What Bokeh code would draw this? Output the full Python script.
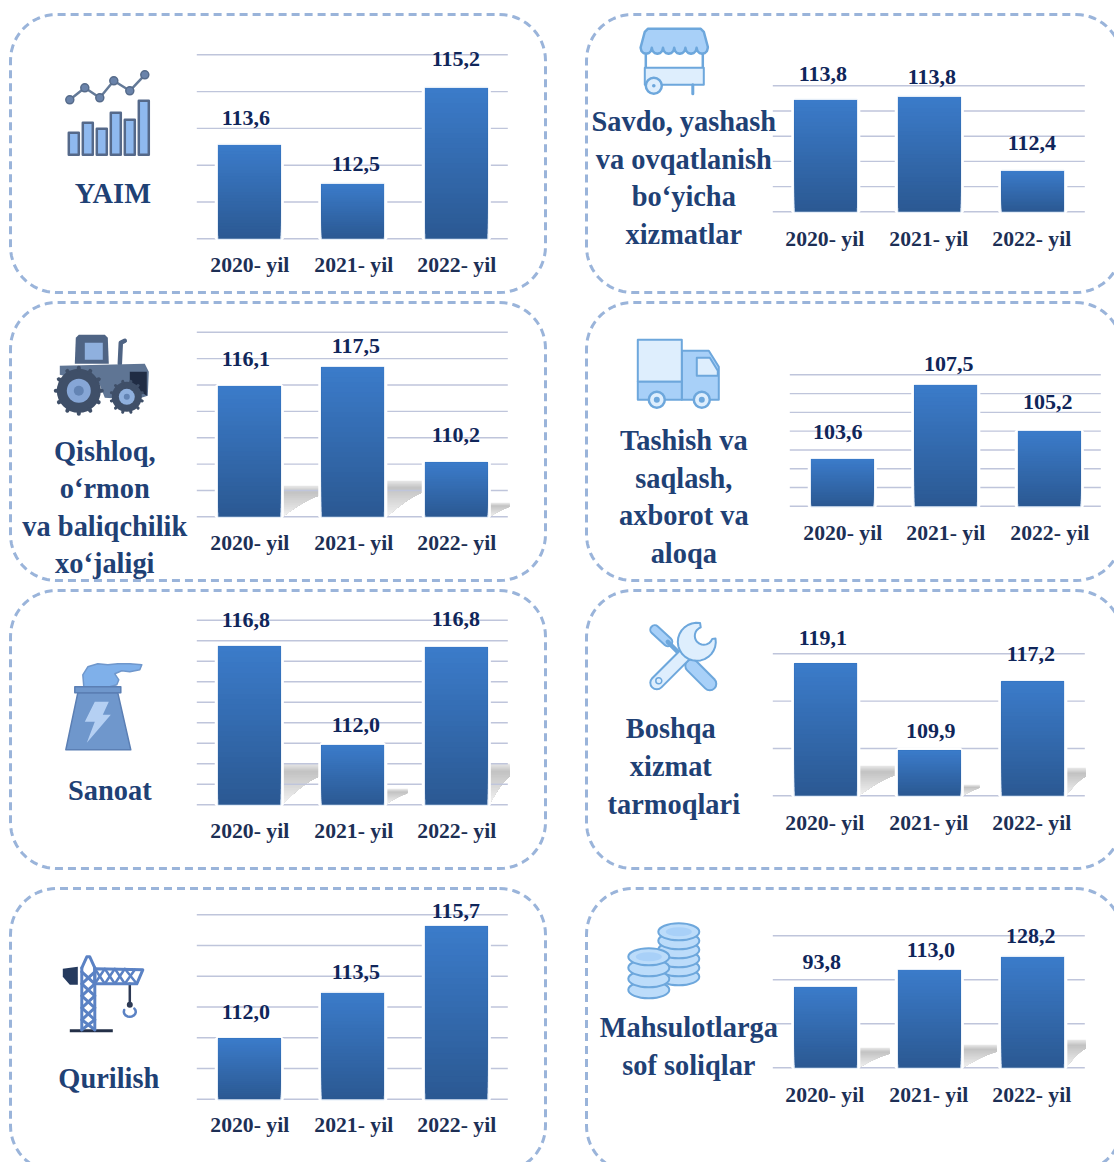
import math
import numpy as np
from bokeh.core.properties import value
from bokeh.embed import file_html
from bokeh.models import Range1d
from bokeh.plotting import figure
from bokeh.resources import INLINE

categories = ["2020- yil", "2021- yil", "2022- yil"]

# Printed value labels and the bar heights
yaim_labels = ["113,6", "112,5", "115,2"]
yaim_bars = [113.55, 112.49, 115.10]
yaim_grid = [111, 112, 113, 114, 115, 116]

savdo_labels = ["113,8", "113,8", "112,4"]
savdo_bars = [113.82, 113.88, 112.41]
savdo_grid = [111.6, 112.1, 112.6, 113.1, 113.6, 114.1]

qishloq_labels = ["116,1", "117,5", "110,2"]
qishloq_bars = [115.9, 117.35, 110.1]
qishloq_grid = [106, 108, 110, 112, 114, 116, 118, 120]

tashish_labels = ["103,6", "107,5", "105,2"]
tashish_bars = [103.5, 107.45, 105.0]
tashish_grid = [101, 102, 103, 104, 105, 106, 107, 108]

sanoat_labels = ["116,8", "112,0", "116,8"]
sanoat_bars = [116.72, 111.89, 116.67]
sanoat_grid = [109, 110, 111, 112, 113, 114, 115, 116, 117, 118]

boshqa_labels = ["119,1", "109,9", "117,2"]
boshqa_bars = [118.94, 109.75, 117.04]
boshqa_grid = [105, 110, 115, 120]

qurilish_labels = ["112,0", "113,5", "115,7"]
qurilish_bars = [111.97, 113.46, 115.62]
qurilish_grid = [110, 111, 112, 113, 114, 115, 116]

mahsulot_labels = ["93,8", "113,0", "128,2"]
mahsulot_bars = [91.3, 111.0, 125.9]
mahsulot_grid = [0, 50, 100, 150]

# name, labels, bars, grid, titles
panels = [
    ("yaim", yaim_labels, yaim_bars, yaim_grid, ["YAIM"]),
    ("savdo", savdo_labels, savdo_bars, savdo_grid, ["Savdo, yashash", "va ovqatlanish", "bo‘yicha", "xizmatlar"]),
    ("qishloq", qishloq_labels, qishloq_bars, qishloq_grid, ["Qishloq,", "o‘rmon", "va baliqchilik", "xo‘jaligi"]),
    ("tashish", tashish_labels, tashish_bars, tashish_grid, ["Tashish va", "saqlash,", "axborot va", "aloqa"]),
    ("sanoat", sanoat_labels, sanoat_bars, sanoat_grid, ["Sanoat"]),
    ("boshqa", boshqa_labels, boshqa_bars, boshqa_grid, ["Boshqa", "xizmat", "tarmoqlari"]),
    ("qurilish", qurilish_labels, qurilish_bars, qurilish_grid, ["Qurilish"]),
    ("mahsulot", mahsulot_labels, mahsulot_bars, mahsulot_grid, ["Mahsulotlarga", "sof soliqlar"]),
]

# Layout, in reference pixels
layout = {
    "yaim": dict(gx=(197, 508), gy=(239, 55), c0=249.5, lx=[246, 356, 456], ly=[118, 164, 59], cy=265, cx=[250, 354, 457],
                 tx=[113], ty=[194], shadow=[]),
    "savdo": dict(gx=(773, 1085), gy=(212, 86), c0=826, lx=[823, 932, 1032], ly=[74, 77, 143], cy=239, cx=[825, 929, 1032],
                  tx=[684, 684, 684, 684], ty=[122, 160, 197, 235], shadow=[]),
    "qishloq": dict(gx=(197, 508), gy=(517, 332.5), c0=249.5, lx=[246, 356, 456], ly=[359, 346, 435], cy=543, cx=[250, 354, 457],
                    tx=[105, 105, 105, 105], ty=[452, 489, 527, 564],
                    shadow=[(283, 320, 486, 517), (387, 424, 481, 517), (490, 510, 503, 517)]),
    "tashish": dict(gx=(790, 1101), gy=(506.5, 375), c0=842.5, lx=[838, 949, 1048], ly=[432, 364, 402], cy=533, cx=[843, 946, 1050],
                    tx=[684, 684, 684, 684], ty=[441, 479, 516, 554], shadow=[]),
    "sanoat": dict(gx=(197, 508), gy=(805, 620.5), c0=249.5, lx=[246, 356, 456], ly=[620, 725, 619], cy=831, cx=[250, 354, 457],
                   tx=[110], ty=[791], shadow=[(283, 320, 764, 804), (387, 408, 789, 804), (490, 510, 764, 804)]),
    "boshqa": dict(gx=(773, 1085), gy=(796, 654), c0=826, lx=[823, 931, 1031], ly=[638, 731, 654], cy=823, cx=[825, 929, 1032],
                   tx=[671, 671, 674], ty=[729, 767, 805],
                   shadow=[(859, 896, 766, 796), (963, 980, 785, 796), (1066, 1086, 768, 796)]),
    "qurilish": dict(gx=(197, 508), gy=(1099.5, 915), c0=249.5, lx=[246, 356, 456], ly=[1012, 972, 911], cy=1125, cx=[250, 354, 457],
                     tx=[109], ty=[1079], shadow=[]),
    "mahsulot": dict(gx=(773, 1085), gy=(1068, 936), c0=826, lx=[822, 931, 1031], ly=[962, 950, 936], cy=1095, cx=[825, 929, 1032],
                     tx=[689, 689], ty=[1028, 1066],
                     shadow=[(859, 890, 1048, 1068), (963, 997, 1045, 1068), (1066, 1086, 1040, 1068)]),
}
boxes = [(10.7, 14.7, 545.7, 292.7), (586.7, 14.7, 1122, 292.7), (10.7, 302.7, 545.7, 580.7), (586.7, 302.7, 1122, 580.7),
         (10.7, 590.7, 545.7, 868.7), (586.7, 590.7, 1122, 868.7), (10.7, 888.7, 545.7, 1172), (586.7, 888.7, 1122, 1172)]

STEP = 103.5
BAR_W = 0.6
OFF = 0.7
X0, X1, Y0, Y1 = OFF, 1114 + OFF, OFF, 1162 + OFF

SERIF = value("Liberation Serif")
STROKE = "#6da7dc"
LIGHT = "#deeefd"
MID = "#a8d0f8"

p = figure(width=1114, height=1162, x_range=Range1d(X0, X1), y_range=Range1d(Y1, Y0),
           output_backend="svg", toolbar_location=None, x_axis_type=None, y_axis_type=None,
           min_border=0, outline_line_color=None, background_fill_color="white", border_fill_color="white")
p.grid.visible = False


def mix(c1, c2, t):
    a = [int(c1[i:i + 2], 16) for i in (1, 3, 5)]
    b = [int(c2[i:i + 2], 16) for i in (1, 3, 5)]
    return "#%02x%02x%02x" % tuple(round(x + (y - x) * t) for x, y in zip(a, b))


def round_box(x0, y0, x1, y1, r=46):
    xs, ys = [], []
    for cx, cy, a0 in ((x1 - r, y0 + r, -90), (x1 - r, y1 - r, 0), (x0 + r, y1 - r, 90), (x0 + r, y0 + r, 180)):
        for a in np.linspace(a0, a0 + 90, 16):
            xs.append(cx + r * math.cos(math.radians(a)))
            ys.append(cy + r * math.sin(math.radians(a)))
    return xs + xs[:1], ys + ys[:1]


for b in boxes:
    xs, ys = round_box(*b)
    p.line(xs, ys, line_color="#9ab4da", line_width=3, line_dash="8 5")


def shadow(x0, x1, y0, y1):
    n = max(6, int(y1 - y0))
    ts = [k / n for k in range(n + 1)]
    edge = [x1 if t < 0.32 else x1 - (x1 - x0) * ((t - 0.32) / 0.68) ** 0.75 for t in ts]
    ys = [y0 + (y1 - y0) * t for t in ts]
    xss, yss, colors = [], [], []
    for k in range(n):
        t = ts[k]
        if t < 0.18:
            c = mix("#e6e6e6", "#c2c2c2", t / 0.18)
        else:
            c = mix("#c2c2c2", "#f4f4f4", (t - 0.18) / 0.82)
        xss.append([x0] + edge[k:] + [x0])
        yss.append([ys[k]] + ys[k:] + [y1])
        colors.append(c)
    p.patches(xss, yss, fill_color=colors, line_color=None)


def chart(name, labels, bars, grid, titles):
    L = layout[name]
    base_px, top_px = L["gy"]
    ppu = (base_px - top_px) / (grid[-1] - grid[0])
    yname, xname = name + "_y", name + "_x"
    p.extra_y_ranges[yname] = Range1d(grid[0] + (base_px - Y1) / ppu, grid[0] + (base_px - Y0) / ppu)
    p.extra_x_ranges[xname] = Range1d((X0 - L["c0"]) / STEP, (X1 - L["c0"]) / STEP)

    for s in L["shadow"]:
        shadow(*s)

    p.segment(x0=[L["gx"][0]] * len(grid), x1=[L["gx"][1]] * len(grid), y0=grid, y1=grid,
              line_color="#bfc5db", line_width=1.4, y_range_name=yname)

    idx = list(range(len(bars)))
    bottom = [grid[0]] * len(bars)
    p.quad(left=[i - BAR_W / 2 for i in idx], right=[i + BAR_W / 2 for i in idx], bottom=bottom, top=bars,
           fill_color="white", line_color="white", line_width=7, x_range_name=xname, y_range_name=yname)
    p.quad(left=[i - BAR_W / 2 for i in idx], right=[i + BAR_W / 2 for i in idx], bottom=bottom, top=bars,
           fill_color="#dfe9f6", line_color="#e4edf8", line_width=2.4, x_range_name=xname, y_range_name=yname)
    # gradient: slices painted bottom to top, each reaching the bar's top, so no seams show
    n = 30
    left, right, lo, hi, col = [], [], [], [], []
    for i, v in zip(idx, bars):
        for k in range(n):
            left.append(i - BAR_W / 2)
            right.append(i + BAR_W / 2)
            lo.append(grid[0] + (v - grid[0]) * (k / n))
            hi.append(v)
            col.append(mix("#2b5993", "#3b7bc9", k / (n - 1)))
    p.quad(left=left, right=right, bottom=lo, top=hi, fill_color=col, line_color=None,
           x_range_name=xname, y_range_name=yname)

    p.text(L["lx"], L["ly"], text=labels, text_font=SERIF, text_font_style="bold", text_font_size="22px",
           text_color="#10265a", text_align="center", text_baseline="middle")
    p.text(L["cx"], [L["cy"]] * 3, text=categories, text_font=SERIF, text_font_style="bold", text_font_size="21.7px",
           text_color="#1d2f55", text_align="center", text_baseline="middle")
    p.text(L["tx"], L["ty"], text=titles, text_font=SERIF, text_font_style="bold", text_font_size="28.4px",
           text_color="#1f4175", text_align="center", text_baseline="middle")


for entry in panels:
    chart(*entry)


# ---- icons (decoration) ----
def poly(pts, fill, line=None, w=2):
    xs, ys = zip(*pts)
    p.patch(list(xs), list(ys), fill_color=fill, line_color=line, line_width=w, line_join="round")


def stick(pts, color, w):
    xs, ys = zip(*pts)
    p.line(list(xs), list(ys), line_color=color, line_width=w, line_cap="round", line_join="round")


def disc(x, y, r, fill, line=None, w=2):
    p.ellipse([x], [y], width=2 * r, height=2 * r, fill_color=fill, line_color=line, line_width=w)


# YAIM
pts = [(70, 100), (85, 88), (100, 98), (114, 81), (130, 91), (145, 75)]
stick(pts, "#647a98", 2.5)
for x, y in pts:
    disc(x, y, 4, "#6a83aa", "#566b8a", 1.5)
for x, h in zip([69, 83, 97, 111, 125, 139], [133, 123, 129, 113, 120, 101]):
    poly([(x, h), (x + 10, h), (x + 10, 155), (x, 155)], "#8fb9ef", "#55698a", 2.5)

# Market cart
for x in (646, 703):
    stick([(x, 55), (x, 70)], STROKE, 2.5)
poly([(645, 68), (704, 68), (704, 85), (645, 85)], LIGHT, STROKE, 2)
sc = [(648, 29), (701, 29), (704, 32), (708, 47)]
for i in range(6):
    xa = 708 - i * 11.2
    for a in np.linspace(0, 180, 7):
        sc.append((xa - 5.6 + 5.6 * math.cos(math.radians(a)), 48 + 6 * math.sin(math.radians(a))))
sc += [(641, 47), (645, 32)]
poly(sc, MID, STROKE, 2.5)
disc(654, 86, 8, LIGHT, STROKE, 2.5)
disc(654, 86, 1.8, STROKE)
stick([(693, 85), (693, 94)], STROKE, 3)

# Tractor
poly([(79, 335), (105, 335), (108, 338), (109, 364), (75, 364), (76, 338)], "#4f6484")
poly([(85, 343), (103, 343), (103, 360), (85, 360)], "#8fb0de")
stick([(125, 341), (121, 343), (120, 364)], "#4f6484", 4.5)
poly([(60, 366), (145, 364), (149, 372), (148, 396), (135, 400), (105, 398), (100, 385), (60, 375)], "#5f7594")
poly([(130, 372), (147, 372), (147, 396), (130, 385)], "#202c44")
disc(79, 391, 22, "#3f4f68")
for a in range(0, 360, 30):
    c, s = math.cos(math.radians(a)), math.sin(math.radians(a))
    stick([(79 + 21 * c, 391 + 21 * s), (79 + 23 * c, 391 + 23 * s)], "#3f4f68", 4)
disc(79, 391, 12, "#86a6d6")
disc(79, 391, 5, "#6384b4")
disc(127, 397, 15, "#3f4f68")
for a in range(15, 360, 30):
    c, s = math.cos(math.radians(a)), math.sin(math.radians(a))
    stick([(127 + 14 * c, 397 + 14 * s), (127 + 16 * c, 397 + 16 * s)], "#3f4f68", 3)
disc(127, 397, 8, "#8fb0de")
disc(127, 397, 3, "#6384b4")

# Truck
poly([(682, 351), (709, 351), (719, 367), (719, 400), (682, 400)], MID, STROKE, 2)
poly([(697, 358), (710, 358), (718, 371), (718, 376), (697, 376)], LIGHT, STROKE, 2)
poly([(638, 340), (682, 340), (682, 382), (638, 382)], LIGHT, STROKE, 2)
poly([(638, 382), (682, 382), (682, 400), (638, 400)], MID, STROKE, 2)
disc(657, 400, 8, LIGHT, STROKE, 2.5)
disc(657, 400, 3, STROKE)
disc(702, 400, 8, LIGHT, STROKE, 2.5)
disc(702, 400, 3, STROKE)

# Power plant
poly([(84, 687), (83, 675), (88, 667), (98, 664), (108, 665), (118, 664), (130, 664), (142, 665), (140, 670), (130, 672),
      (122, 671), (115, 674), (119, 680), (117, 685), (110, 687)], "#7fb0ea", "#6f97cc", 1.5)
poly([(78, 693), (118, 693), (131, 750), (66, 750)], "#6f97cc", "#5b7fb4", 1.5)
poly([(75, 687), (121, 687), (121, 693), (75, 693)], "#6f97cc", "#5b7fb4", 1.5)
poly([(95, 702), (109, 702), (103, 715), (111, 715), (87, 743), (95, 722), (85, 722)], "#b5d0f3")

# Tools
stick([(655, 630), (668, 642)], STROKE, 11)
stick([(655, 630), (668, 642)], MID, 7)
stick([(668, 642), (692, 666)], STROKE, 4.5)
stick([(692, 666), (710, 684)], STROKE, 15)
stick([(692, 666), (710, 684)], MID, 11)
stick([(657, 683), (688, 652)], STROKE, 15)
stick([(657, 683), (688, 652)], LIGHT, 11)
head = [(697 + 19 * math.cos(math.radians(a)), 642 + 19 * math.sin(math.radians(a))) for a in np.linspace(-10, 280, 24)]
head += [(704 + 9 * math.cos(math.radians(a)), 636 + 9 * math.sin(math.radians(a))) for a in np.linspace(-110, -270, 12)]
head += [(704 + 9 * math.cos(math.radians(a)), 636 + 9 * math.sin(math.radians(a))) for a in np.linspace(90, 20, 5)]
poly(head, LIGHT, STROKE, 2)
disc(659, 681, 3, LIGHT, STROKE, 1.5)

# Crane
p.line([70, 113], [1031, 1031], line_color="#232f47", line_width=3)
poly([(63, 969), (78, 967), (78, 985), (70, 985), (63, 977)], "#253a5e")
stick([(130, 984), (130, 1003)], "#2d3a55", 2.5)
disc(130, 1005, 3, "#2d3a55")
th = np.linspace(-40, 200, 12)
stick([(130 + 6 * math.cos(math.radians(a)), 1012 + 5 * math.sin(math.radians(a))) for a in th], "#5b82c4", 2.5)
CR = "#5b82c4"
stick([(82, 972), (95, 984), (82, 996), (95, 1008), (82, 1020), (95, 1030)], CR, 3)
stick([(95, 972), (82, 984), (95, 996), (82, 1008), (95, 1020), (82, 1030)], CR, 3)
stick([(82, 968), (82, 1030)], CR, 3)
stick([(95, 968), (95, 1030)], CR, 3)
stick([(82, 968), (87, 957), (90, 957), (95, 968)], CR, 3)
stick([(95, 969), (143, 970), (137, 984), (95, 984), (95, 969)], CR, 3)
stick([(95, 969), (105, 984), (115, 969), (125, 984), (135, 970)], CR, 2.5)
stick([(95, 984), (105, 969), (115, 984), (125, 969), (137, 984)], CR, 2.5)

# Coins
for cx, top, bot, layers in ((679, 932, 977, 5), (649, 957, 990, 3)):
    for k in range(layers + 1):
        y = bot - (bot - top) * k / layers
        p.ellipse([cx], [y], width=41, height=17, fill_color="#bcdcfa", line_color=STROKE, line_width=2)
    p.ellipse([cx], [top], width=26, height=9, fill_color=MID, line_color=None)

open("out.html", "w").write(file_html(p, INLINE))
